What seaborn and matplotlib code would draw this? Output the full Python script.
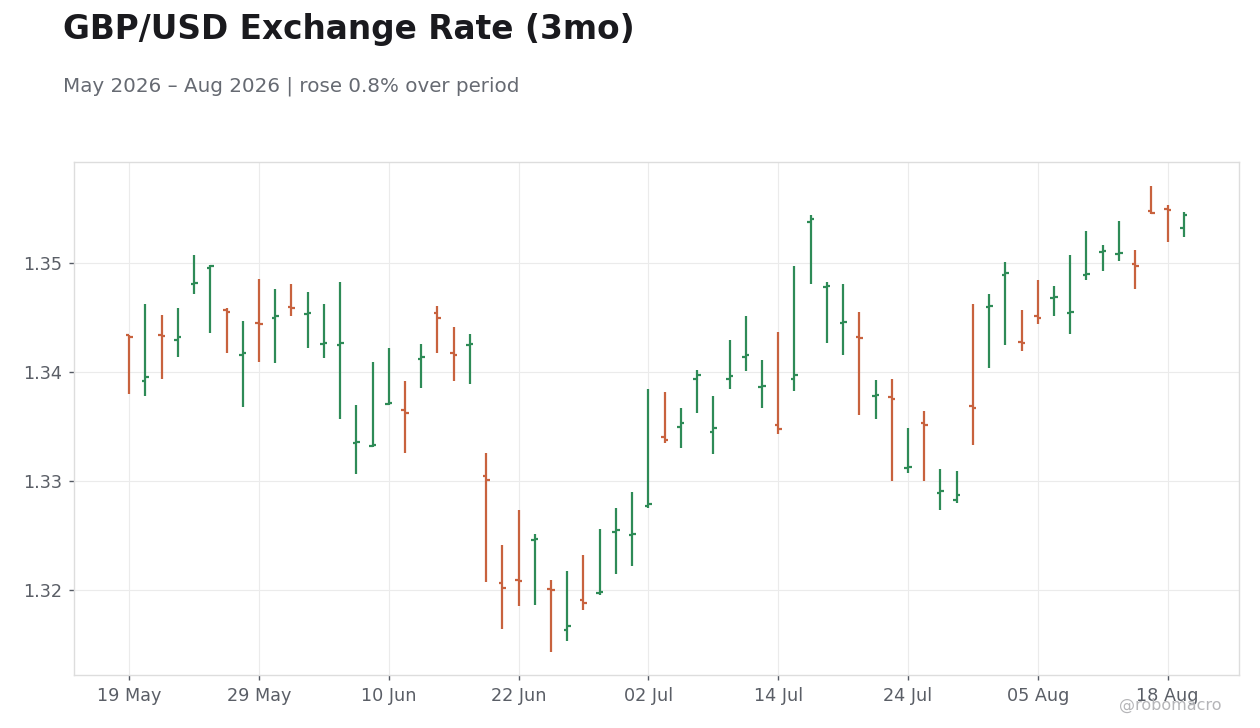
import numpy as np
import pandas as pd
import seaborn as sns
import matplotlib
matplotlib.use("Agg")
import matplotlib.pyplot as plt

# daily OHLC (business days from 19 May 2026)
opens = [1.3434, 1.3392, 1.3434, 1.3429, 1.3481, 1.3495, 1.3457, 1.3416, 1.3445, 1.3450,
         1.3460, 1.3453, 1.3426, 1.3425, 1.3335, 1.3332, 1.3371, 1.3365, 1.3412, 1.3454,
         1.3417, 1.3425, 1.3305, 1.3206, 1.3209, 1.3246, 1.3201, 1.3163, 1.3191, 1.3197,
         1.3253, 1.3250, 1.3277, 1.3340, 1.3350, 1.3394, 1.3345, 1.3394, 1.3414, 1.3386,
         1.3351, 1.3394, 1.3538, 1.3478, 1.3445, 1.3432, 1.3378, 1.3377, 1.3312, 1.3353,
         1.3289, 1.3283, 1.3369, 1.3460, 1.3489, 1.3428, 1.3451, 1.3468, 1.3454, 1.3489,
         1.3510, 1.3508, 1.3499, 1.3548, 1.3550, 1.3532]
highs = [1.3434, 1.3462, 1.3452, 1.3459, 1.3507, 1.3498, 1.3459, 1.3447, 1.3485, 1.3476,
         1.3481, 1.3473, 1.3462, 1.3483, 1.3370, 1.3409, 1.3422, 1.3392, 1.3426, 1.3461,
         1.3441, 1.3435, 1.3326, 1.3241, 1.3273, 1.3251, 1.3209, 1.3217, 1.3232, 1.3256,
         1.3275, 1.3290, 1.3384, 1.3382, 1.3367, 1.3402, 1.3378, 1.3429, 1.3451, 1.3411,
         1.3437, 1.3497, 1.3544, 1.3483, 1.3481, 1.3455, 1.3393, 1.3394, 1.3349, 1.3364,
         1.3311, 1.3309, 1.3462, 1.3472, 1.3501, 1.3457, 1.3484, 1.3479, 1.3507, 1.3529,
         1.3517, 1.3539, 1.3512, 1.3571, 1.3553, 1.3547]
lows = [1.3380, 1.3378, 1.3394, 1.3414, 1.3472, 1.3436, 1.3417, 1.3368, 1.3409, 1.3408,
        1.3451, 1.3422, 1.3413, 1.3357, 1.3306, 1.3331, 1.3370, 1.3326, 1.3385, 1.3417,
        1.3392, 1.3389, 1.3207, 1.3164, 1.3185, 1.3186, 1.3143, 1.3153, 1.3182, 1.3195,
        1.3215, 1.3222, 1.3275, 1.3335, 1.3330, 1.3362, 1.3325, 1.3384, 1.3401, 1.3367,
        1.3343, 1.3383, 1.3481, 1.3427, 1.3416, 1.3361, 1.3357, 1.3300, 1.3307, 1.3300,
        1.3273, 1.3280, 1.3333, 1.3404, 1.3425, 1.3419, 1.3444, 1.3451, 1.3435, 1.3484,
        1.3493, 1.3502, 1.3476, 1.3545, 1.3519, 1.3524]
closes = [1.3432, 1.3395, 1.3433, 1.3432, 1.3482, 1.3497, 1.3455, 1.3417, 1.3444, 1.3451,
          1.3459, 1.3454, 1.3427, 1.3427, 1.3336, 1.3333, 1.3372, 1.3362, 1.3414, 1.3450,
          1.3416, 1.3426, 1.3301, 1.3202, 1.3208, 1.3247, 1.3200, 1.3167, 1.3188, 1.3198,
          1.3255, 1.3251, 1.3279, 1.3338, 1.3353, 1.3397, 1.3349, 1.3396, 1.3416, 1.3387,
          1.3348, 1.3397, 1.3540, 1.3479, 1.3446, 1.3431, 1.3379, 1.3375, 1.3313, 1.3351,
          1.3291, 1.3287, 1.3367, 1.3461, 1.3491, 1.3427, 1.3450, 1.3469, 1.3455, 1.3490,
          1.3511, 1.3509, 1.3497, 1.3546, 1.3549, 1.3544]

tick_labels = ["19 May", "29 May", "10 Jun", "22 Jun", "02 Jul",
               "14 Jul", "24 Jul", "05 Aug", "18 Aug"]

UP = "#2e8b57"
DOWN = "#c8623e"

df = pd.DataFrame({"open": opens, "high": highs, "low": lows, "close": closes})
df["idx"] = np.arange(len(df))
df["color"] = np.where(df["close"] >= df["open"], UP, DOWN)

sns.set_theme(style="whitegrid")
plt.rcParams["font.family"] = ["DejaVu Sans"]

fig = plt.figure(figsize=(12.6, 7.28), dpi=100)
ax = fig.add_axes([74 / 1260, 1 - 675 / 728, (1239 - 74) / 1260, (675 - 162) / 728])

# high-low range, then open (left) and close (right) ticks
ax.vlines(df["idx"], df["low"], df["high"], colors=df["color"], linewidth=1.6)
ax.hlines(df["open"], df["idx"] - 0.22, df["idx"], colors=df["color"], linewidth=1.6)
ax.hlines(df["close"], df["idx"], df["idx"] + 0.22, colors=df["color"], linewidth=1.6)

ax.set_xlim(-3.4, len(df) - 1 + 3.4)
ax.set_ylim(1.3122, 1.35927)
ax.set_xticks(np.arange(0, len(df), 8))
ax.set_xticklabels(tick_labels)
ax.set_yticks([1.32, 1.33, 1.34, 1.35])
ax.set_yticklabels(["1.32", "1.33", "1.34", "1.35"])

ax.set_facecolor("white")
ax.grid(True, color="#ebebeb", linewidth=0.8)
for side in ["top", "right", "bottom", "left"]:
    ax.spines[side].set_visible(True)
    ax.spines[side].set_color("#dddddd")
    ax.spines[side].set_linewidth(1.0)
ax.tick_params(axis="both", which="major", length=3.5, width=1, color="#555a63",
               labelsize=12.7, labelcolor="#5a5e66", pad=5, bottom=True, left=True)

fig.text(63 / 1260, 1 - 30 / 728, "GBP/USD Exchange Rate (3mo)", fontsize=23.6,
         fontweight="bold", color="#1a1a1e", ha="left", va="center")
fig.text(63 / 1260, 1 - 86 / 728, "May 2026 \u2013 Aug 2026 | rose 0.8% over period",
         fontsize=14.3, color="#666a72", ha="left", va="center")
fig.text(1222 / 1260, 1 - 705 / 728, "@robomacro", fontsize=11.5, color="#b5b5b8",
         ha="right", va="center")

fig.savefig("out.png", dpi=100, facecolor="white")
